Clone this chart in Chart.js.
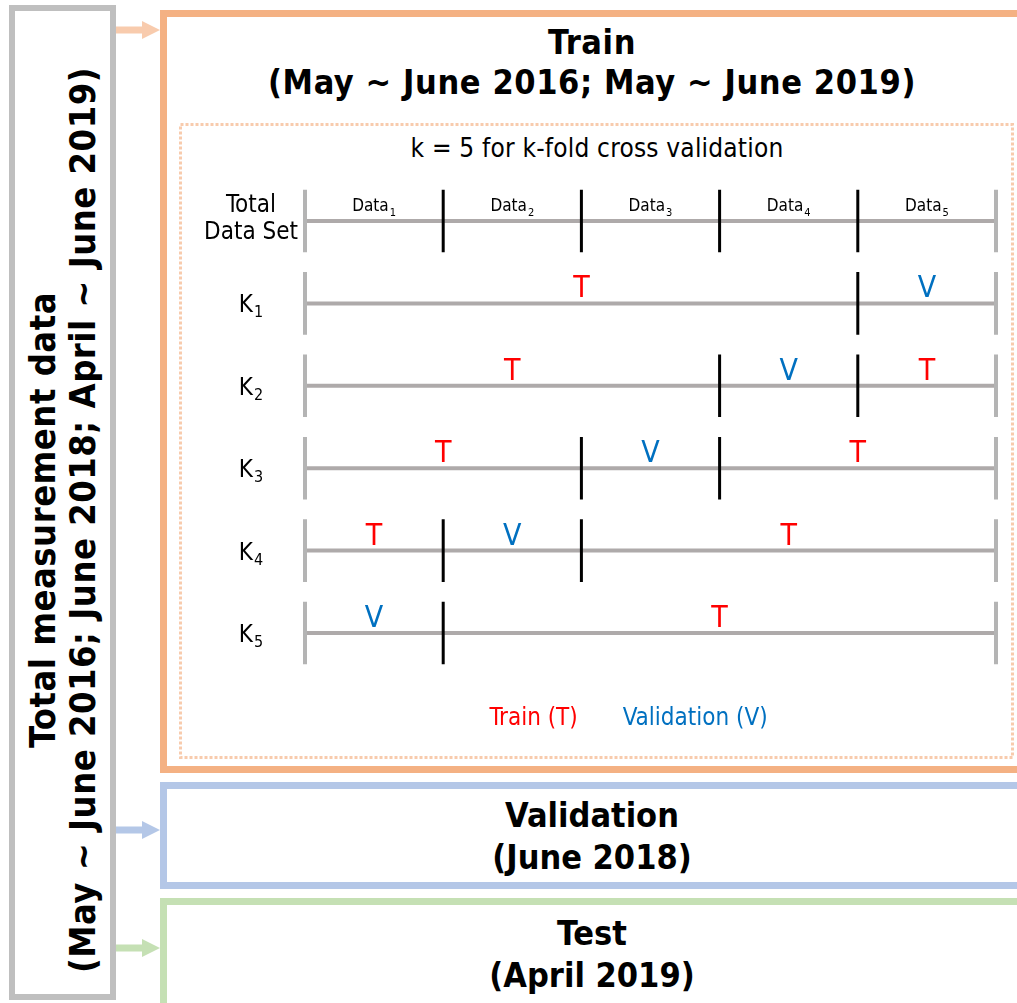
<!DOCTYPE html>
<html>
<head>
<meta charset="utf-8">
<title>k-fold cross validation</title>
<script src="https://cdn.jsdelivr.net/npm/chart.js@4.4.0/dist/chart.umd.min.js"></script>
<style>
    html, body { margin: 0; padding: 0; background: #fff; }
    body {
        width: 1017px; height: 1003px; position: relative; overflow: hidden;
        font-family: "DejaVu Sans Condensed", "Liberation Sans Narrow", "DejaVu Sans", sans-serif;
        font-stretch: condensed; color: #000;
    }
    .box { position: absolute; box-sizing: border-box; background: #fff; }
    #totalBox { left: 9px; top: 5px; width: 107px; height: 995px; border: 6px solid #bfbfbf; }
    #trainBox { left: 160px; top: 10px; width: 900px; height: 763px; border: 7px solid #f4b183; }
    #validBox { left: 160px; top: 782px; width: 900px; height: 107px; border: 7px solid #b4c7e7; }
    #testBox { left: 160px; top: 898px; width: 900px; height: 130px; border: 7px solid #c5e0b4; }
    .vtext {
        position: absolute; left: -417px; top: 480px; width: 960px; height: 80px;
        transform: rotate(-90deg); text-align: center;
        font-weight: bold; font-size: 36px; line-height: 40px; letter-spacing: 0.5px;
    }
    .head {
        position: absolute; left: 167px; width: 850px; text-align: center;
        font-weight: bold; font-size: 34px; line-height: 40px;
    }
    #kTitle {
        position: absolute; left: 197px; width: 800px; top: 132px; text-align: center;
        font-size: 26px; line-height: 32px; letter-spacing: 0.2px;
    }
    #shapes { position: absolute; left: 0; top: 0; }
    #foldChart { position: absolute; left: 185px; top: 150px; }
</style>
</head>
<body>
<div class="box" id="totalBox"></div>
<div class="vtext">Total measurement data<br>(May ~ June 2016; June 2018; April ~ June 2019)</div>
<div class="box" id="trainBox"></div>
<div class="box" id="validBox"></div>
<div class="box" id="testBox"></div>

<svg id="shapes" width="1017" height="1003">
    <!-- arrows from the total box -->
    <polygon points="116,26.5 142,26.5 142,21 160,30 142,39 142,33.5 116,33.5" fill="#f8cbad"/>
    <polygon points="116,826.5 142,826.5 142,821 160,830 142,839 142,833.5 116,833.5" fill="#b4c7e7"/>
    <polygon points="116,944.5 142,944.5 142,939 160,948 142,957 142,951.5 116,951.5" fill="#c5e0b4"/>
    <!-- dotted frame around the k-fold diagram -->
    <rect x="180.5" y="124.5" width="832" height="633" fill="none" stroke="#f8cbad" stroke-width="3" stroke-dasharray="3 2"/>
</svg>

<div class="head" style="top:22px; letter-spacing:0.6px">Train<br>(May ~ June 2016; May ~ June 2019)</div>
<div class="head" style="top:794px; line-height:42px">Validation<br>(June 2018)</div>
<div class="head" style="top:912px; line-height:42px">Test<br>(April 2019)</div>
<div id="kTitle">k = 5 for k-fold cross validation</div>

<canvas id="foldChart" width="825" height="592"></canvas>

<script>
// rows of the diagram and the five folds
const rowNames = [["Total", "Data Set"], ["K", "1"], ["K", "2"], ["K", "3"], ["K", "4"], ["K", "5"]];
const foldNames = [["Data", "1"], ["Data", "2"], ["Data", "3"], ["Data", "4"], ["Data", "5"]];
const foldEdges = [0, 1, 2, 3, 4, 5];
// fold used as validation set in K1..K5
const validationFold = [5, 4, 3, 2, 1];
const legendNames = ["Train (T)", "Validation (V)"];

const FONT = "'DejaVu Sans Condensed', 'Liberation Sans Narrow', 'DejaVu Sans', sans-serif";
const RED = "#ff0000";
const BLUE = "#0070c0";
const LINE_GREY = "#aeaaaa";
const CAP_GREY = "#b4b4b4";
const TICK_HALF = 0.38;

const first = foldEdges[0];
const last = foldEdges[foldEdges.length - 1];

function segment(x1, y1, x2, y2, color, width, order) {
    return {
        data: [{ x: x1, y: y1 }, { x: x2, y: y2 }],
        borderColor: color,
        borderWidth: width,
        borderCapStyle: "butt",
        pointRadius: 0,
        fill: false,
        clip: false,
        order: order,
    };
}

const datasets = [];
rowNames.forEach((_, r) => {
    // base line of the row
    datasets.push(segment(first, r, last, r, LINE_GREY, 4, 3));
    // end caps
    datasets.push(segment(first, r - TICK_HALF, first, r + TICK_HALF, CAP_GREY, 4, 2));
    datasets.push(segment(last, r - TICK_HALF, last, r + TICK_HALF, CAP_GREY, 4, 2));

    // black cuts: every fold edge on the total row, edges of V elsewhere
    let cuts;
    if (r === 0) {
        cuts = foldEdges.slice(1, -1);
    } else {
        const v = validationFold[r - 1];
        cuts = [foldEdges[v - 1], foldEdges[v]].filter((e) => e > first && e < last);
    }
    cuts.forEach((c) => {
        datasets.push(segment(c, r - TICK_HALF, c, r + TICK_HALF, "#000", 3, 1));
    });
});

// text with a lowered index, centred on cx
function subText(ctx, main, sub, cx, base, size, subSize, drop) {
    ctx.font = size + "px " + FONT;
    const w1 = ctx.measureText(main).width;
    ctx.font = subSize + "px " + FONT;
    const w2 = ctx.measureText(sub).width;
    const x0 = cx - (w1 + w2 + 1) / 2;
    ctx.textAlign = "left";
    ctx.textBaseline = "alphabetic";
    ctx.font = size + "px " + FONT;
    ctx.fillText(main, x0, base);
    ctx.font = subSize + "px " + FONT;
    ctx.fillText(sub, x0 + w1 + 1, base + drop);
}

// row names on the left, Data_i on the total row, T / V on the K rows
const foldText = {
    id: "foldText",
    afterDraw(chart) {
        const { ctx, chartArea, scales: { x, y } } = chart;
        ctx.save();
        ctx.fillStyle = "#000";

        const nameX = chartArea.left - 54;
        rowNames.forEach((name, r) => {
            const py = y.getPixelForValue(r);
            if (r === 0) {
                ctx.font = "24px " + FONT;
                ctx.textAlign = "center";
                ctx.textBaseline = "alphabetic";
                ctx.fillText(name[0], nameX, py - 9);
                ctx.fillText(name[1], nameX, py + 18);
            } else {
                subText(ctx, name[0], name[1], nameX, py + 9, 24, 16, 5);
            }
        });

        foldNames.forEach((name, i) => {
            const cx = x.getPixelForValue((foldEdges[i] + foldEdges[i + 1]) / 2);
            subText(ctx, name[0], name[1], cx, y.getPixelForValue(0) - 10, 17, 11, 5);
        });

        ctx.font = "30px " + FONT;
        ctx.textAlign = "center";
        ctx.textBaseline = "alphabetic";
        validationFold.forEach((v, k) => {
            const runs = [];
            if (v > 1) runs.push(["T", 0, v - 1]);
            runs.push(["V", v - 1, v]);
            if (v < foldNames.length) runs.push(["T", v, foldNames.length]);
            runs.forEach(([t, a, b]) => {
                ctx.fillStyle = t === "T" ? RED : BLUE;
                const cx = x.getPixelForValue((foldEdges[a] + foldEdges[b]) / 2);
                ctx.fillText(t, cx, y.getPixelForValue(k + 1) - 6);
            });
        });
        ctx.restore();
    },
};

new Chart(document.getElementById("foldChart"), {
    type: "line",
    data: { datasets: datasets },
    options: {
        responsive: false,
        animation: false,
        events: [],
        layout: { padding: { left: 64, right: 14, top: 29.8, bottom: 0.8 } },
        scales: {
            x: { type: "linear", min: first, max: last, display: false },
            y: {
                type: "linear",
                reverse: true,
                min: -0.5,
                max: rowNames.length - 0.5,
                afterFit: (scale) => {
                    scale.width = 56;
                },
                grid: { display: false, drawTicks: false },
                border: { display: false },
                ticks: { display: false },
            },
        },
        plugins: {
            tooltip: { enabled: false },
            legend: {
                position: "bottom",
                onClick: null,
                labels: {
                    boxWidth: 0,
                    padding: 33,
                    font: { family: FONT, size: 24 },
                    generateLabels: () =>
                        legendNames.map((t, i) => ({
                            text: t,
                            fontColor: i === 0 ? RED : BLUE,
                            fillStyle: "rgba(0,0,0,0)",
                            strokeStyle: "rgba(0,0,0,0)",
                            lineWidth: 0,
                            hidden: false,
                            datasetIndex: i,
                        })),
                },
            },
        },
    },
    plugins: [foldText],
});
</script>
</body>
</html>
